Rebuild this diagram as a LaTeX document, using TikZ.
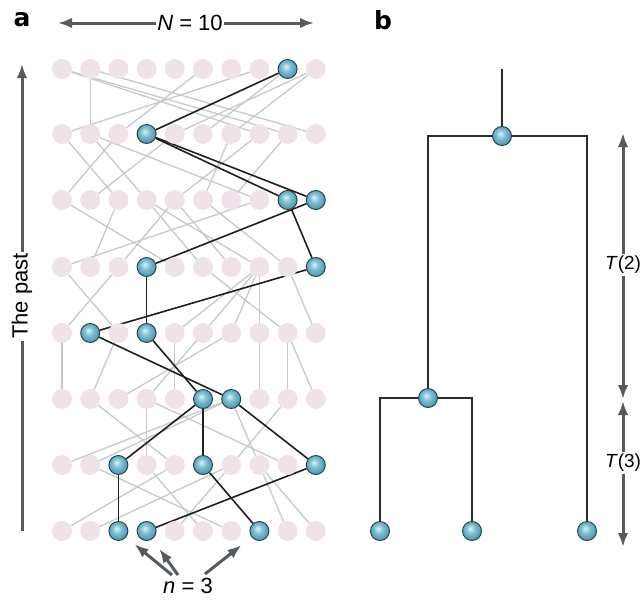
\documentclass[tikz,border=0pt]{standalone}
\usepackage{fontspec}
\setmainfont{Liberation Sans}
\newfontfamily\labfont{DejaVu Sans}
\usetikzlibrary{arrows.meta}
\definecolor{pinkn}{HTML}{EFE3E9}
\definecolor{grayl}{HTML}{C5C9CB}
\definecolor{arrg}{HTML}{555A60}
\definecolor{bdark}{HTML}{1F3E4C}
\definecolor{bla}{HTML}{DDF3F8}
\definecolor{blb}{HTML}{7FC0D3}
\definecolor{blc}{HTML}{3C86A2}
\definecolor{treel}{HTML}{2B2B2B}
\pgfdeclareradialshading{bluesh}{\pgfpoint{-5bp}{7bp}}{color(0bp)=(bla); color(12bp)=(blb); color(32bp)=(blc); color(50bp)=(blc)}
\pgfdeclarelayer{bg}
\pgfsetlayers{bg,main}
\newcommand\markblue[2]{\expandafter\gdef\csname blue-#1-#2\endcsname{}}
\markblue{0}{8}
\markblue{1}{3}
\markblue{2}{8}\markblue{2}{9}
\markblue{3}{3}\markblue{3}{9}
\markblue{4}{1}\markblue{4}{3}
\markblue{5}{5}\markblue{5}{6}
\markblue{6}{2}\markblue{6}{5}\markblue{6}{9}
\markblue{7}{2}\markblue{7}{3}\markblue{7}{7}
\begin{document}
\begin{tikzpicture}[x=1pt,y=-1pt,
  pnode/.style={circle,minimum size=20pt,inner sep=0pt,fill=pinkn},
  bnode/.style={circle,minimum size=19pt,inner sep=0pt,draw=bdark,line width=0.9pt,shading=bluesh},
  gline/.style={draw=grayl,line width=1.3pt},
  kline/.style={draw=black!88,line width=1.6pt},
  tline/.style={draw=treel,line width=1.5pt},
  garrow/.style={draw=arrg,line width=3pt},
  ghead/.style={-{Latex[length=14pt,width=10.5pt]}},
  lab/.style={font=\fontsize{22}{22}\selectfont,inner sep=1.5pt},
  tlab/.style={font=\fontsize{19}{19}\selectfont,inner sep=1.5pt},
  panel/.style={font=\fontsize{25}{25}\labfont\bfseries,inner sep=0pt}]
\useasboundingbox (0,0) rectangle (642,600);
% grid of individuals
\foreach \rr/\yy in {0/69,1/134,2/200,3/267,4/333,5/399,6/465,7/531}{
  \foreach \cc in {0,...,9}{
    \pgfmathsetmacro\xx{62+28.2*\cc}
    \ifcsname blue-\rr-\cc\endcsname
      \node[bnode] (n-\rr-\cc) at (\xx,\yy) {};
    \else
      \node[pnode] (n-\rr-\cc) at (\xx,\yy) {};
    \fi
  }
}
\begin{pgfonlayer}{bg}
% grey parent links (child column / parent column)
\foreach \rr/\lst in {
  1/{0/7,1/1,2/5,4/9,5/8,6/9,7/0,8/0,9/1},
  2/{0/2,1/4,2/0,3/1,4/7,5/6,6/8,7/1},
  3/{0/7,1/2,2/4,4/0,5/3,6/4,7/3,8/5},
  4/{0/2,2/0,4/7,5/7,6/7,7/7,8/5,9/8},
  5/{0/0,1/2,2/6,3/5,4/4,7/7,8/8,9/8},
  6/{0/6,1/6,3/3,4/1,6/8,7/6,8/3},
  7/{0/4,1/6,4/6,5/3,6/1,8/7,9/7}}{
  \pgfmathtruncatemacro\pr{\rr-1}
  \foreach \cc/\pp in \lst{
    \draw[gline] (n-\rr-\cc) -- (n-\pr-\pp);
  }
}
% black genealogy of the sample
\foreach \rr/\lst in {
  1/{3/8}, 2/{8/3,9/3}, 3/{3/9,9/8}, 4/{1/9,3/3},
  5/{5/3,6/1}, 6/{2/5,5/5,9/6}, 7/{2/2,3/9,7/5}}{
  \pgfmathtruncatemacro\pr{\rr-1}
  \foreach \cc/\pp in \lst{
    \draw[kline] (n-\rr-\cc) -- (n-\pr-\pp);
  }
}
\end{pgfonlayer}
% panel labels
\node[panel] (pa) at (22,20) {a};
\node[panel] (pb) at (383,20) {b};
% N = 10
\node[lab] (Nlab) at (190,23) {\textit{N} = 10};
\coordinate (NL) at (58,23);
\coordinate (NR) at (314,23);
\draw[garrow,ghead] (Nlab) -- (NL);
\draw[garrow,ghead] (Nlab) -- (NR);
% The past
\node[lab,rotate=90] (past) at (22,296) {The past};
\coordinate (pastT) at (22,64);
\coordinate (pastB) at (22,531);
\draw[garrow,ghead] (past) -- (pastT);
\draw[garrow] (past) -- (pastB);
% n = 3
\node[lab] (nlab) at (188,586) {\textit{n} = 3};
\coordinate (s1) at (172,575);
\coordinate (s2) at (178,575);
\coordinate (s3) at (205,574);
\draw[garrow,ghead,shorten >=11pt] (s1) -- (n-7-2);
\draw[garrow,ghead,shorten >=12pt] (s2) -- (n-7-3);
\draw[garrow,ghead,shorten >=13pt] (s3) -- (n-7-7);
% panel b tree
\coordinate (root) at (502,69);
\node[bnode] (t0) at (502,136) {};
\node[bnode] (t1) at (428,398) {};
\node[bnode] (l1) at (380,531) {};
\node[bnode] (l2) at (472,531) {};
\node[bnode] (l3) at (587,531) {};
\begin{pgfonlayer}{bg}
\draw[tline] (root) -- (t0);
\draw[tline] (t0) -| (t1);
\draw[tline] (t0) -| (l3);
\draw[tline] (t1) -| (l1);
\draw[tline] (t1) -| (l2);
\end{pgfonlayer}
% coalescence times
\node[tlab] (T2) at (623,265) {\textit{T}(2)};
\node[tlab] (T3) at (623,463) {\textit{T}(3)};
\coordinate (T2t) at (623,133);
\coordinate (T2b) at (623,399);
\coordinate (T3t) at (623,401);
\coordinate (T3b) at (623,547);
\draw[garrow,ghead] (T2) -- (T2t);
\draw[garrow,ghead] (T2) -- (T2b);
\draw[garrow,ghead] (T3) -- (T3t);
\draw[garrow,ghead] (T3) -- (T3b);
\end{tikzpicture}
\end{document}
